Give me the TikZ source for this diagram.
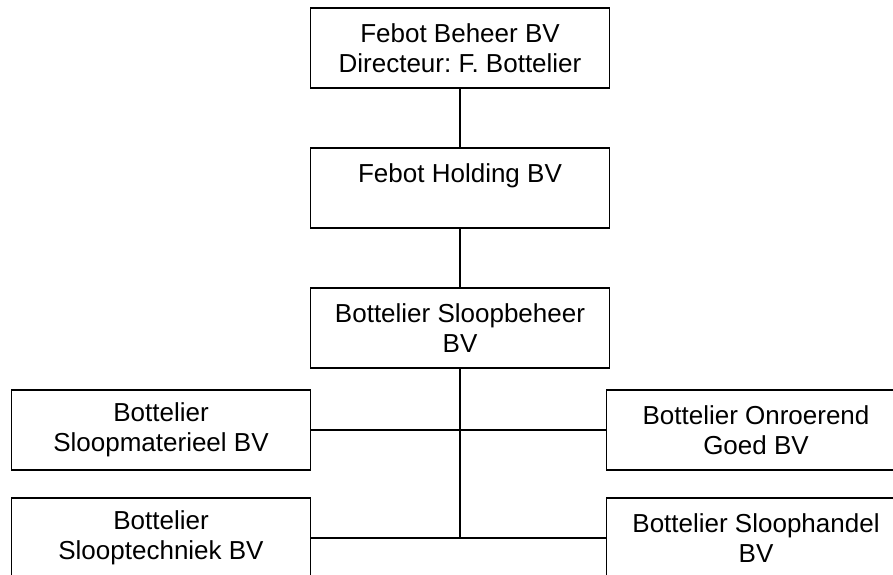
\documentclass[tikz,border=0pt]{standalone}
\usepackage{fontspec}
\setmainfont{Liberation Sans}
\usepackage{tikz}
\usetikzlibrary{positioning}
\frenchspacing

\begin{document}
\begin{tikzpicture}[node distance=70pt,on grid,auto,
        box/.style={draw,line width=0.8pt,minimum width=149.5pt,minimum height=40pt,
            align=center,inner sep=0pt,font=\fontsize{13}{15}\selectfont},
        link/.style={line width=0.8pt}]

        \useasboundingbox (0,0) rectangle (446.5pt,-287pt);
        \clip (0,0) rectangle (446.5pt,-287pt);

        \node[box] (beheer) at (230pt,-24pt) {Febot Beheer BV\\Directeur: F. Bottelier};
        \node[box] (holding) [below=of beheer] {Febot Holding BV\\\phantom{B}};
        \node[box] (sloopbeheer) [below=of holding] {Bottelier Sloopbeheer\\BV};

        \node[box] (materieel) [below left=51pt and 149.5pt of sloopbeheer] {Bottelier\\Sloopmaterieel BV};
        \node[box] (techniek) [below=54pt of materieel] {Bottelier\\Slooptechniek BV};
        \node[box] (onroerend) [below right=51pt and 148pt of sloopbeheer] {Bottelier Onroerend\\Goed BV};
        \node[box] (handel) [below=54pt of onroerend] {Bottelier Sloophandel\\BV};

        \coordinate (trunkend) at (sloopbeheer.south |- techniek.east);

        \path[link]
        (beheer) edge (holding)
        (holding) edge (sloopbeheer)
        (sloopbeheer) edge (trunkend)
        (materieel) edge (onroerend)
        (techniek) edge (handel);

    \end{tikzpicture}
\end{document}
